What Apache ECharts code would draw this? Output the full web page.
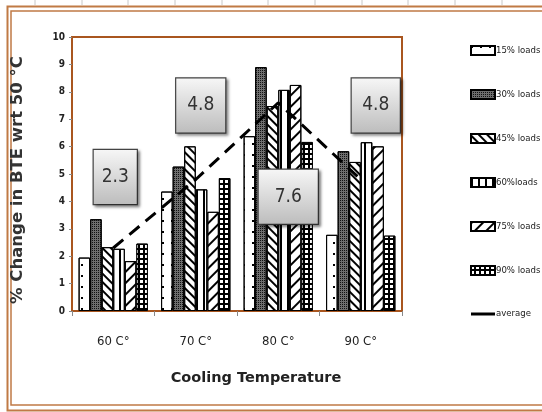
<!DOCTYPE html>
<html>
<head>
<meta charset="utf-8">
<script src="https://cdn.jsdelivr.net/npm/echarts@6/dist/echarts.min.js"></script>
<style>html,body{margin:0;padding:0;background:#fff}#c{width:542px;height:412px}</style>
</head>
<body>
<div id="c"></div>
<script>
var categories = ['60 C°', '70 C°', '80 C°', '90 C°'];
var load15 = [1.95, 4.36, 6.38, 2.78];
var load30 = [3.35, 5.27, 8.90, 5.83];
var load45 = [2.33, 6.01, 7.48, 5.44];
var load60 = [2.27, 4.44, 8.07, 6.16];
var load75 = [1.82, 3.62, 8.25, 6.01];
var load90 = [2.46, 4.85, 6.17, 2.75];
var average = [2.3, 4.8, 7.6, 4.8];
var yTicks = [0, 10, 1];

var narrow = "'Liberation Sans Narrow','DejaVu Sans Condensed','Liberation Sans',sans-serif";
var brown = '#a9561f';

function barSeries(name, data, color, decal) {
  return {
    name: name, type: 'bar', data: data, barGap: '0%', barCategoryGap: '16%',
    itemStyle: { color: color, borderColor: '#000', borderWidth: 1, decal: decal },
    emphasis: { disabled: true }
  };
}

var decals = {
  d15: { symbol: 'rect', symbolSize: 1, color: '#000', dashArrayX: [[1.3, 6.7]], dashArrayY: [1.3, 9] },
  d30: { symbol: 'rect', symbolSize: 1, color: '#111', dashArrayX: [1, 1], dashArrayY: [1, 1] },
  d45: { symbol: 'rect', symbolSize: 1, color: '#000', dashArrayX: [1, 0], dashArrayY: [1.4, 3.2], rotation: Math.PI / 4 },
  d60: { symbol: 'rect', symbolSize: 1, color: '#000', dashArrayX: [1.2, 4.5], dashArrayY: [1, 0] },
  d75: { symbol: 'rect', symbolSize: 1, color: '#000', dashArrayX: [1, 0], dashArrayY: [1.3, 6], rotation: -Math.PI / 4 },
  d90: { symbol: 'rect', symbolSize: 1, color: '#fff', dashArrayX: [3, 1.2], dashArrayY: [3, 1.2] }
};

var labelOffsets = [[2, -71, 43], [5, -74, 49], [10, 94, 59], [15, -74, 48]];

var avgData = average.map(function (v, i) {
  return {
    value: v,
    label: { offset: [labelOffsets[i][0], labelOffsets[i][1]], width: labelOffsets[i][2] - 2 }
  };
});

var gridTicks = [35, 82, 128, 175, 222, 268, 315, 362, 408, 455, 502];
var graphics = gridTicks.map(function (x) {
  return { type: 'line', shape: { x1: x, y1: 0, x2: x, y2: 5 }, style: { stroke: '#c8c8c8', lineWidth: 1 }, silent: true };
});
graphics.push(
  { type: 'rect', shape: { x: 7.5, y: 6.5, width: 545, height: 404 }, style: { fill: 'none', stroke: '#c07a45', lineWidth: 2 }, silent: true },
  { type: 'rect', shape: { x: 11, y: 11, width: 545, height: 394 }, style: { fill: 'none', stroke: '#c07a45', lineWidth: 1.5 }, silent: true }
);

var chart = echarts.init(document.getElementById('c'), null, { renderer: 'canvas' });
chart.setOption({
  animation: false,
  backgroundColor: '#fff',
  graphic: graphics,
  grid: { left: 72, top: 37, right: 140, bottom: 101, show: true, borderColor: brown, borderWidth: 2, backgroundColor: '#fff' },
  legend: {
    orient: 'vertical', left: 465, top: 40, itemWidth: 24, itemHeight: 9, itemGap: 33, icon: 'rect',
    textStyle: { fontFamily: narrow, fontSize: 9.5, color: '#222', padding: [0, 0, 0, -4] },
    data: ['15% loads', '30% loads', '45% loads', '60%loads', '75% loads', '90% loads',
      { name: 'average', icon: 'path://M0,0H40V5H0Z', itemStyle: { color: '#000' } }]
  },
  xAxis: {
    type: 'category', data: categories,
    axisLine: { lineStyle: { color: brown, width: 2 } },
    axisTick: { show: true, length: 5, lineStyle: { color: '#888' } },
    axisLabel: { fontFamily: narrow, fontSize: 13, color: '#222', margin: 24 },
    name: 'Cooling Temperature', nameLocation: 'middle', nameGap: 60,
    nameTextStyle: { fontFamily: "'DejaVu Sans',sans-serif", fontWeight: 'bold', fontSize: 14.5, color: '#222', padding: [0, 0, 0, 38] }
  },
  yAxis: {
    type: 'value', min: yTicks[0], max: yTicks[1], interval: yTicks[2],
    axisLine: { show: true, lineStyle: { color: brown, width: 2 } },
    axisTick: { show: true, length: 3, lineStyle: { color: '#888' } },
    splitLine: { show: false },
    axisLabel: { fontFamily: narrow, fontSize: 10, fontWeight: 'bold', color: '#222', margin: 7 },
    name: '% Change in BTE wrt 50 °C', nameLocation: 'middle', nameGap: 46, nameRotate: 90,
    nameTextStyle: { fontFamily: "'DejaVu Sans',sans-serif", fontWeight: 'bold', fontSize: 16.5, color: '#333', padding: [0, 12, 0, 0] }
  },
  series: [
    barSeries('15% loads', load15, '#fff', decals.d15),
    barSeries('30% loads', load30, '#6e6e6e', decals.d30),
    barSeries('45% loads', load45, '#fff', decals.d45),
    barSeries('60%loads', load60, '#fff', decals.d60),
    barSeries('75% loads', load75, '#fff', decals.d75),
    barSeries('90% loads', load90, '#000', decals.d90),
    {
      name: 'average', type: 'line', data: avgData, z: 5,
      symbol: 'circle', symbolSize: 1, showSymbol: true,
      itemStyle: { color: 'rgba(0,0,0,0)' },
      lineStyle: { color: '#000', width: 3, type: [13, 8] },
      label: {
        show: true, position: 'inside', formatter: '{c}',
        fontFamily: narrow, fontSize: 19, color: '#333',
        align: 'center', verticalAlign: 'middle',
        height: 20, padding: [17, 1],
        backgroundColor: new echarts.graphic.LinearGradient(0, 0, 0, 1, [
          { offset: 0, color: '#f7f7f7' }, { offset: 1, color: '#bcbcbc' }]),
        borderColor: '#444', borderWidth: 1.2,
        shadowColor: 'rgba(0,0,0,0.45)', shadowBlur: 3, shadowOffsetX: 2, shadowOffsetY: 2
      },
      emphasis: { disabled: true }
    }
  ]
});
</script>
</body>
</html>
